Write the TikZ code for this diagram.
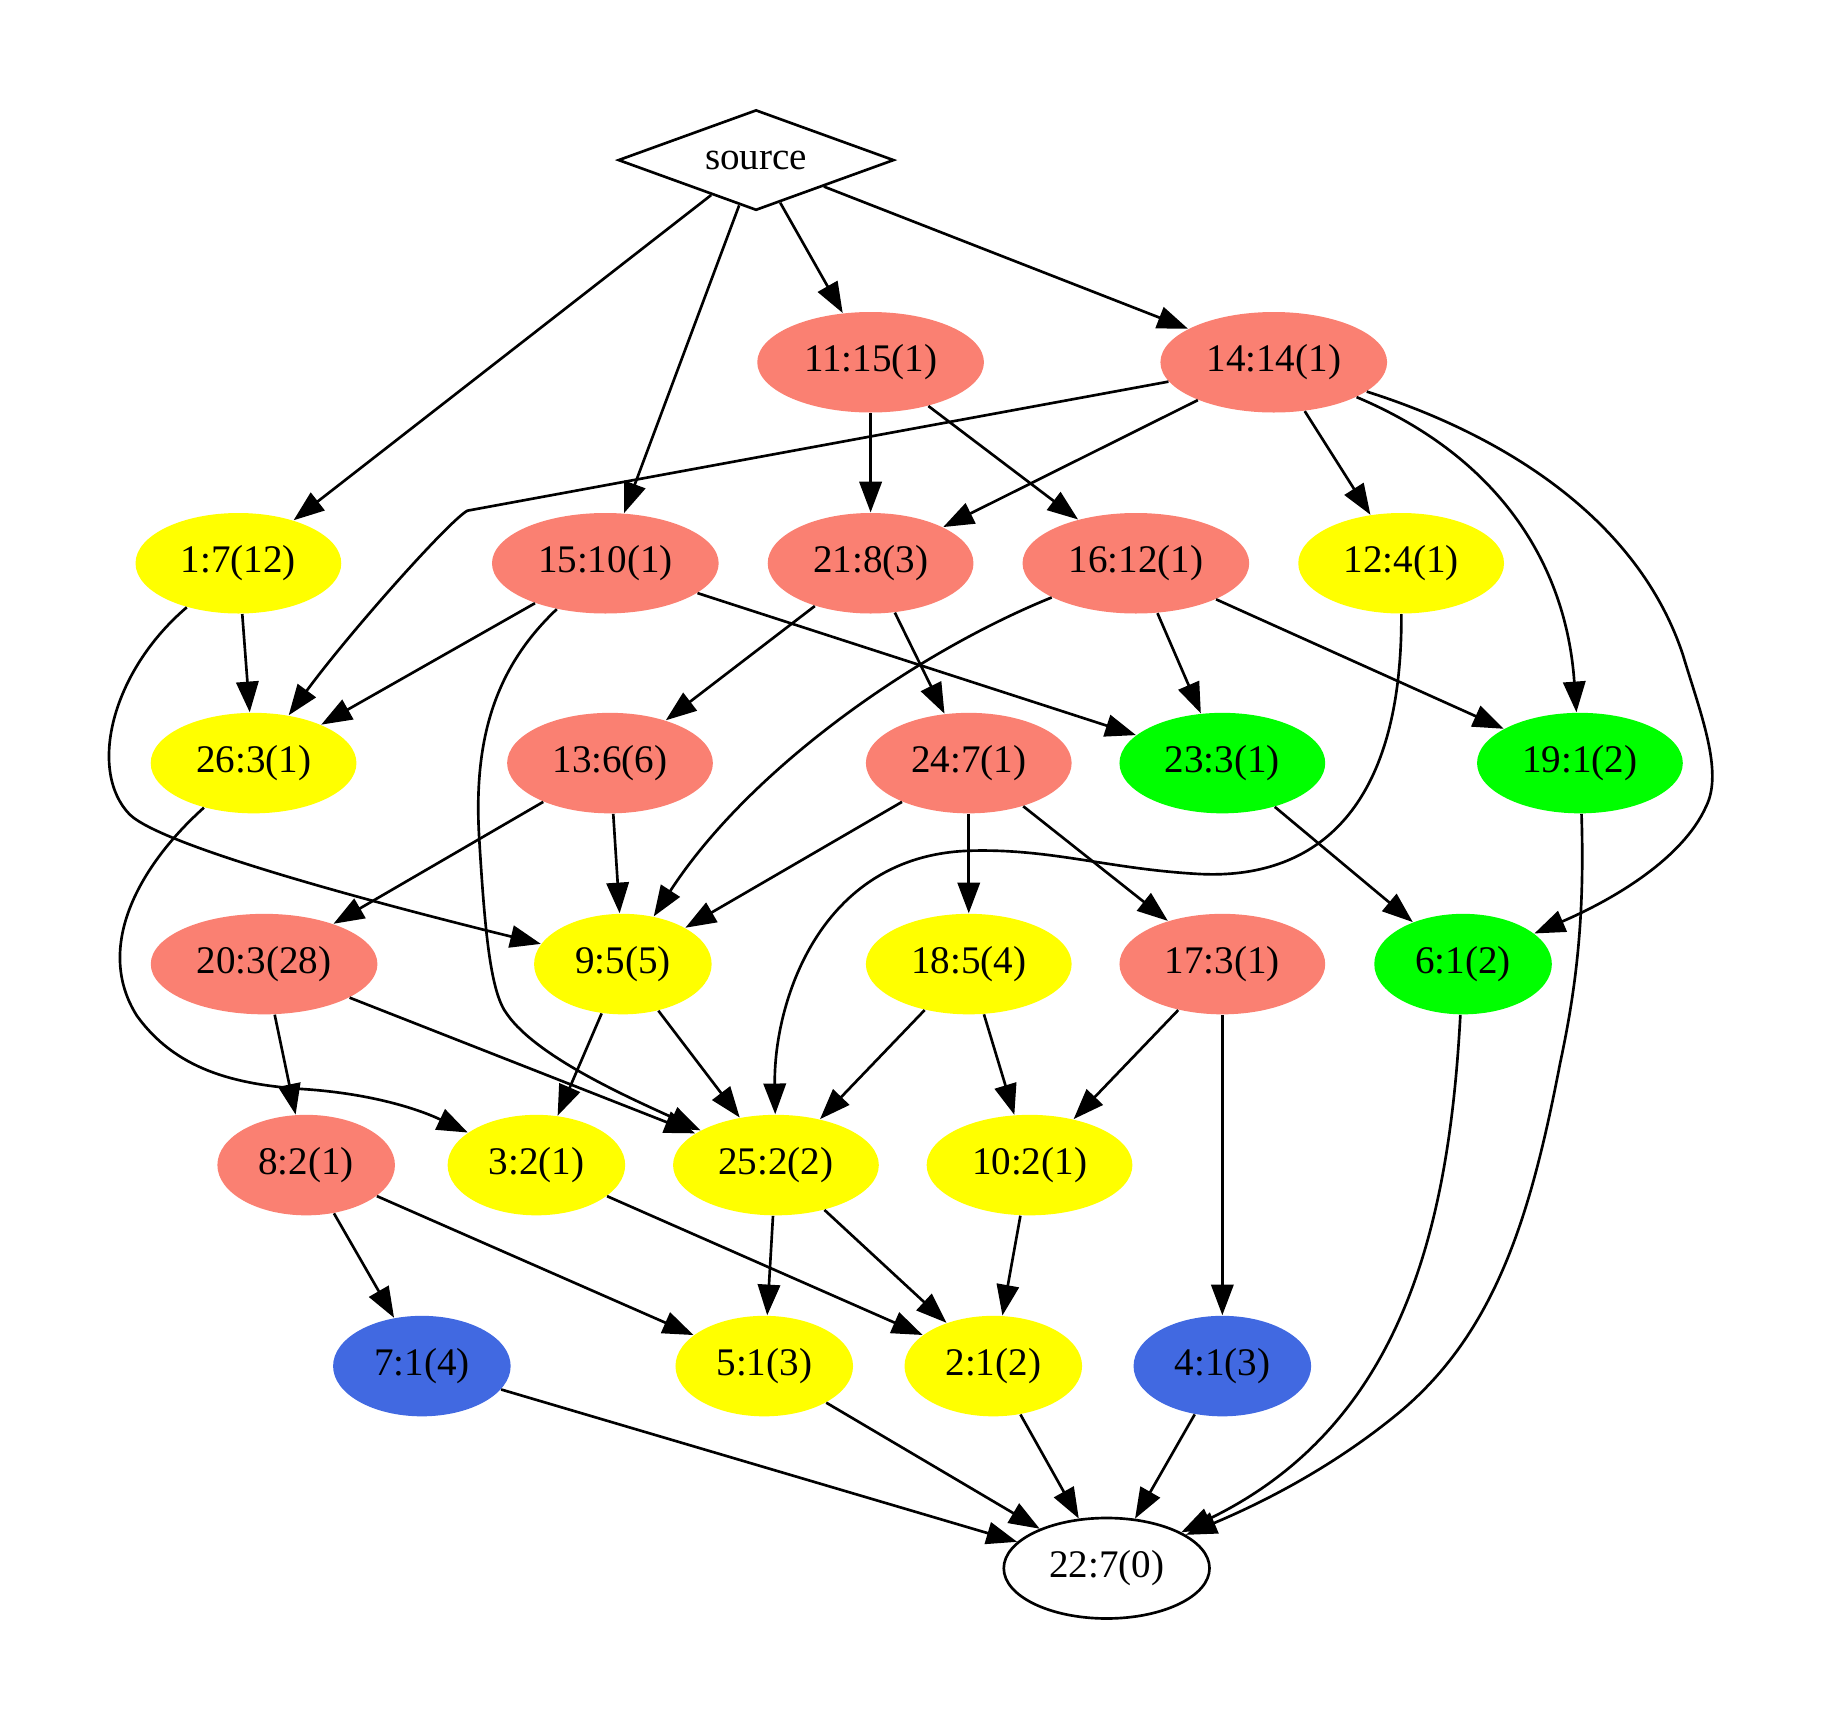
\documentclass[tikz,border=0pt]{standalone}
\usepackage{fontspec}
\setmainfont{Liberation Serif}
\usetikzlibrary{shapes.geometric,arrows.meta}
\definecolor{salmon}{HTML}{FA8072}
\definecolor{royalblue}{HTML}{4169E1}
\definecolor{lima}{HTML}{00FF00}
\definecolor{amarillopuro}{HTML}{FFFF00}
\begin{document}
\begin{tikzpicture}[x=0.4186pt,y=-0.4186pt,
    nodo/.style={ellipse,inner sep=0pt,minimum height=36pt,font=\fontsize{14}{17}\selectfont},
    corto/.style={minimum width=63.6pt},
    medio/.style={minimum width=73.7pt},
    largo/.style={minimum width=81.2pt},
    rojo/.style={nodo,fill=salmon},
    amarillo/.style={nodo,fill=amarillopuro},
    verde/.style={nodo,fill=lima},
    azul/.style={nodo,fill=royalblue},
    flecha/.style={-{Triangle[length=11pt,width=8pt]},line width=0.95pt}]
    \useasboundingbox (0,0) rectangle (1560,1474);

    % Nodo fuente
    \node[diamond,draw,line width=0.95pt,aspect=2.7,inner sep=1pt,minimum width=98.8pt,minimum height=36pt,font=\fontsize{14}{17}\selectfont] (src) at (647,137) {source};

    % Primera fila
    \node[rojo,largo] (v11) at (745,310) {11:15(1)};
    \node[rojo,largo] (v14) at (1090,310) {14:14(1)};

    % Segunda fila
    \node[amarillo,medio] (v1) at (204,482) {1:7(12)};
    \node[rojo,largo] (v15) at (518,482) {15:10(1)};
    \node[rojo,medio] (v21) at (745,482) {21:8(3)};
    \node[rojo,largo] (v16) at (972,482) {16:12(1)};
    \node[amarillo,medio] (v12) at (1199,482) {12:4(1)};

    % Tercera fila
    \node[amarillo,medio] (v26) at (217,653) {26:3(1)};
    \node[rojo,medio] (v13) at (522,653) {13:6(6)};
    \node[rojo,medio] (v24) at (829,653) {24:7(1)};
    \node[verde,medio] (v23) at (1046,653) {23:3(1)};
    \node[verde,medio] (v19) at (1352,653) {19:1(2)};

    % Cuarta fila
    \node[rojo,largo] (v20) at (226,825) {20:3(28)};
    \node[amarillo,corto] (v9) at (533,825) {9:5(5)};
    \node[amarillo,medio] (v18) at (829,825) {18:5(4)};
    \node[rojo,medio] (v17) at (1046,825) {17:3(1)};
    \node[verde,corto] (v6) at (1252,825) {6:1(2)};

    % Quinta fila
    \node[rojo,corto] (v8) at (262,997) {8:2(1)};
    \node[amarillo,corto] (v3) at (459,997) {3:2(1)};
    \node[amarillo,medio] (v25) at (664,997) {25:2(2)};
    \node[amarillo,medio] (v10) at (881,997) {10:2(1)};

    % Sexta fila
    \node[azul,corto] (v7) at (361,1169) {7:1(4)};
    \node[amarillo,corto] (v5) at (654,1169) {5:1(3)};
    \node[amarillo,corto] (v2) at (850,1169) {2:1(2)};
    \node[azul,corto] (v4) at (1046,1169) {4:1(3)};

    % Sumidero
    \node[nodo,medio,draw,line width=0.95pt] (v22) at (947,1342) {22:7(0)};

    % Aristas rectas
    \draw[flecha] (src) -- (v1);
    \draw[flecha] (src) -- (v15);
    \draw[flecha] (src) -- (v11);
    \draw[flecha] (src) -- (v14);
    \draw[flecha] (v11) -- (v21);
    \draw[flecha] (v11) -- (v16);
    \draw[flecha] (v14) -- (v21);
    \draw[flecha] (v14) -- (v12);
    \draw[flecha] (v1) -- (v26);
    \draw[flecha] (v15) -- (v26);
    \draw[flecha] (v15) -- (v23);
    \draw[flecha] (v21) -- (v13);
    \draw[flecha] (v21) -- (v24);
    \draw[flecha] (v16) -- (v23);
    \draw[flecha] (v16) -- (v19);
    \draw[flecha] (v13) -- (v20);
    \draw[flecha] (v13) -- (v9);
    \draw[flecha] (v24) -- (v9);
    \draw[flecha] (v24) -- (v18);
    \draw[flecha] (v24) -- (v17);
    \draw[flecha] (v23) -- (v6);
    \draw[flecha] (v20) -- (v8);
    \draw[flecha] (v20) -- (v25);
    \draw[flecha] (v9) -- (v3);
    \draw[flecha] (v9) -- (v25);
    \draw[flecha] (v18) -- (v25);
    \draw[flecha] (v18) -- (v10);
    \draw[flecha] (v17) -- (v10);
    \draw[flecha] (v17) -- (v4);
    \draw[flecha] (v8) -- (v7);
    \draw[flecha] (v8) -- (v5);
    \draw[flecha] (v3) -- (v2);
    \draw[flecha] (v25) -- (v5);
    \draw[flecha] (v25) -- (v2);
    \draw[flecha] (v10) -- (v2);
    \draw[flecha] (v7) -- (v22);
    \draw[flecha] (v5) -- (v22);
    \draw[flecha] (v2) -- (v22);
    \draw[flecha] (v4) -- (v22);

    % Aristas curvas
    \draw[flecha] (v14) -- (400,437) .. controls (385,445) and (300,540) .. (v26);
    \draw[flecha] (v1) .. controls (95,575) and (75,660) .. (111,697) .. controls (140,725) and (330,775) .. (v9);
    \draw[flecha] (v15) .. controls (425,570) and (405,630) .. (410,716) .. controls (415,800) and (420,850) .. (434,868) .. controls (460,905) and (540,940) .. (v25);
    \draw[flecha] (v12) .. controls (1200,700) and (1120,752) .. (1028,748) .. controls (950,744) and (900,726) .. (830,728) .. controls (700,732) and (662,860) .. (v25);
    \draw[flecha] (v26) .. controls (120,740) and (80,810) .. (117,869) .. controls (150,915) and (200,928) .. (260,932) .. controls (320,936) and (360,950) .. (v3);
    \draw[flecha] (v16) .. controls (780,560) and (640,660) .. (v9);
    \draw[flecha] (v14) .. controls (1280,390) and (1340,480) .. (v19);
    \draw[flecha] (v14) .. controls (1280,370) and (1400,440) .. (1440,560) .. controls (1455,610) and (1475,660) .. (1460,690) .. controls (1440,735) and (1380,770) .. (v6);
    \draw[flecha] (v19) .. controls (1356,780) and (1350,840) .. (1335,910) .. controls (1310,1040) and (1280,1140) .. (1197,1209) .. controls (1140,1256) and (1080,1286) .. (v22);
    \draw[flecha] (v6) .. controls (1240,1050) and (1200,1220) .. (v22);
\end{tikzpicture}
\end{document}
